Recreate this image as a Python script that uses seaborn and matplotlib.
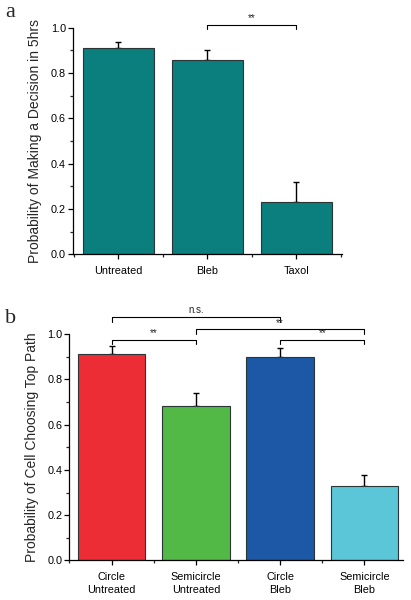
import matplotlib
matplotlib.use("Agg")
import matplotlib.pyplot as plt
import seaborn as sns
import numpy as np
import pandas as pd
from matplotlib.ticker import MultipleLocator, FixedLocator

# ---- data ----
cats_a = ["Untreated", "Bleb", "Taxol"]
vals_a = [0.909, 0.856, 0.229]
errs_a = [0.029, 0.044, 0.090]
colors_a = ["#0B7E7E", "#0B7E7E", "#0B7E7E"]
ylabel_a = "Probability of Making a Decision in 5hrs"

cats_b = ["Circle\nUntreated", "Semicircle\nUntreated", "Circle\nBleb", "Semicircle\nBleb"]
vals_b = [0.911, 0.681, 0.901, 0.329]
errs_b = [0.036, 0.058, 0.040, 0.048]
colors_b = ["#EC2D35", "#52B947", "#1C58A5", "#5AC6D8"]
ylabel_b = "Probability of Cell Choosing Top Path"

yticks = [0.0, 0.2, 0.4, 0.6, 0.8, 1.0]

sns.set_style("ticks")
plt.rcParams["font.family"] = ["Liberation Sans", "DejaVu Sans"]

fig = plt.figure(figsize=(4.11, 6.0), dpi=100)
ax_a = fig.add_axes([0.177, 0.576, 0.654, 0.378])
ax_b = fig.add_axes([0.169, 0.066, 0.812, 0.377])


def draw(ax, cats, vals, errs, colors, ylabel, xlim):
    df = pd.DataFrame({"cat": cats, "val": vals})
    sns.barplot(data=df, x="cat", y="val", hue="cat", palette=colors, legend=False,
                width=0.8, saturation=1, edgecolor="#2a3535", linewidth=0.8, ax=ax,
                zorder=2)
    x = np.arange(len(cats))
    ax.errorbar(x, vals, yerr=[np.zeros(len(vals)), errs], fmt="none",
                ecolor="black", elinewidth=1.0, capsize=2.5, capthick=1.0, zorder=1)
    ax.set_xlim(*xlim)
    ax.set_ylim(0, 1.0)
    ax.set_yticks(yticks)
    ax.set_yticklabels([f"{t:.1f}" for t in yticks])
    ax.yaxis.set_minor_locator(MultipleLocator(0.1))
    ax.xaxis.set_minor_locator(FixedLocator(np.arange(-0.5, len(cats), 1.0)))
    ax.tick_params(axis="both", which="major", direction="out", length=3.5, width=0.9,
                   labelsize=7.8, colors="black")
    ax.tick_params(axis="y", which="major", pad=1.5)
    ax.tick_params(axis="x", which="major", pad=5)
    ax.tick_params(axis="both", which="minor", direction="out", length=2, width=0.9)
    for lab in ax.get_xticklabels():
        lab.set_linespacing(1.35)
    ax.set_xlabel("")
    ax.set_ylabel(ylabel, fontsize=10, labelpad=6)
    for s in ["top", "right"]:
        ax.spines[s].set_visible(False)
    for s in ["left", "bottom"]:
        ax.spines[s].set_linewidth(0.9)
        ax.spines[s].set_color("black")


def bracket(ax, x0, x1, y, leg, text):
    ax.plot([x0, x0, x1, x1], [y - leg, y, y, y - leg], color="black", lw=0.8,
            clip_on=False)
    ax.text((x0 + x1) / 2, y + 0.006, text, ha="center", va="bottom", fontsize=7,
            clip_on=False)


draw(ax_a, cats_a, vals_a, errs_a, colors_a, ylabel_a, (-0.51, 2.51))
draw(ax_b, cats_b, vals_b, errs_b, colors_b, ylabel_b, (-0.5, 3.46))

bracket(ax_a, 1, 2, 1.013, 0.02, "**")
bracket(ax_b, 0, 2, 1.077, 0.021, "n.s.")
bracket(ax_b, 1, 3, 1.022, 0.022, "**")
bracket(ax_b, 0, 1, 0.976, 0.02, "**")
bracket(ax_b, 2, 3, 0.976, 0.02, "**")

fig.text(0.012, 0.972, "a", fontsize=16, family=["Liberation Serif", "DejaVu Serif"],
         ha="left", va="baseline")
fig.text(0.012, 0.462, "b", fontsize=16, family=["Liberation Serif", "DejaVu Serif"],
         ha="left", va="baseline")

fig.savefig("out.png", dpi=100)
